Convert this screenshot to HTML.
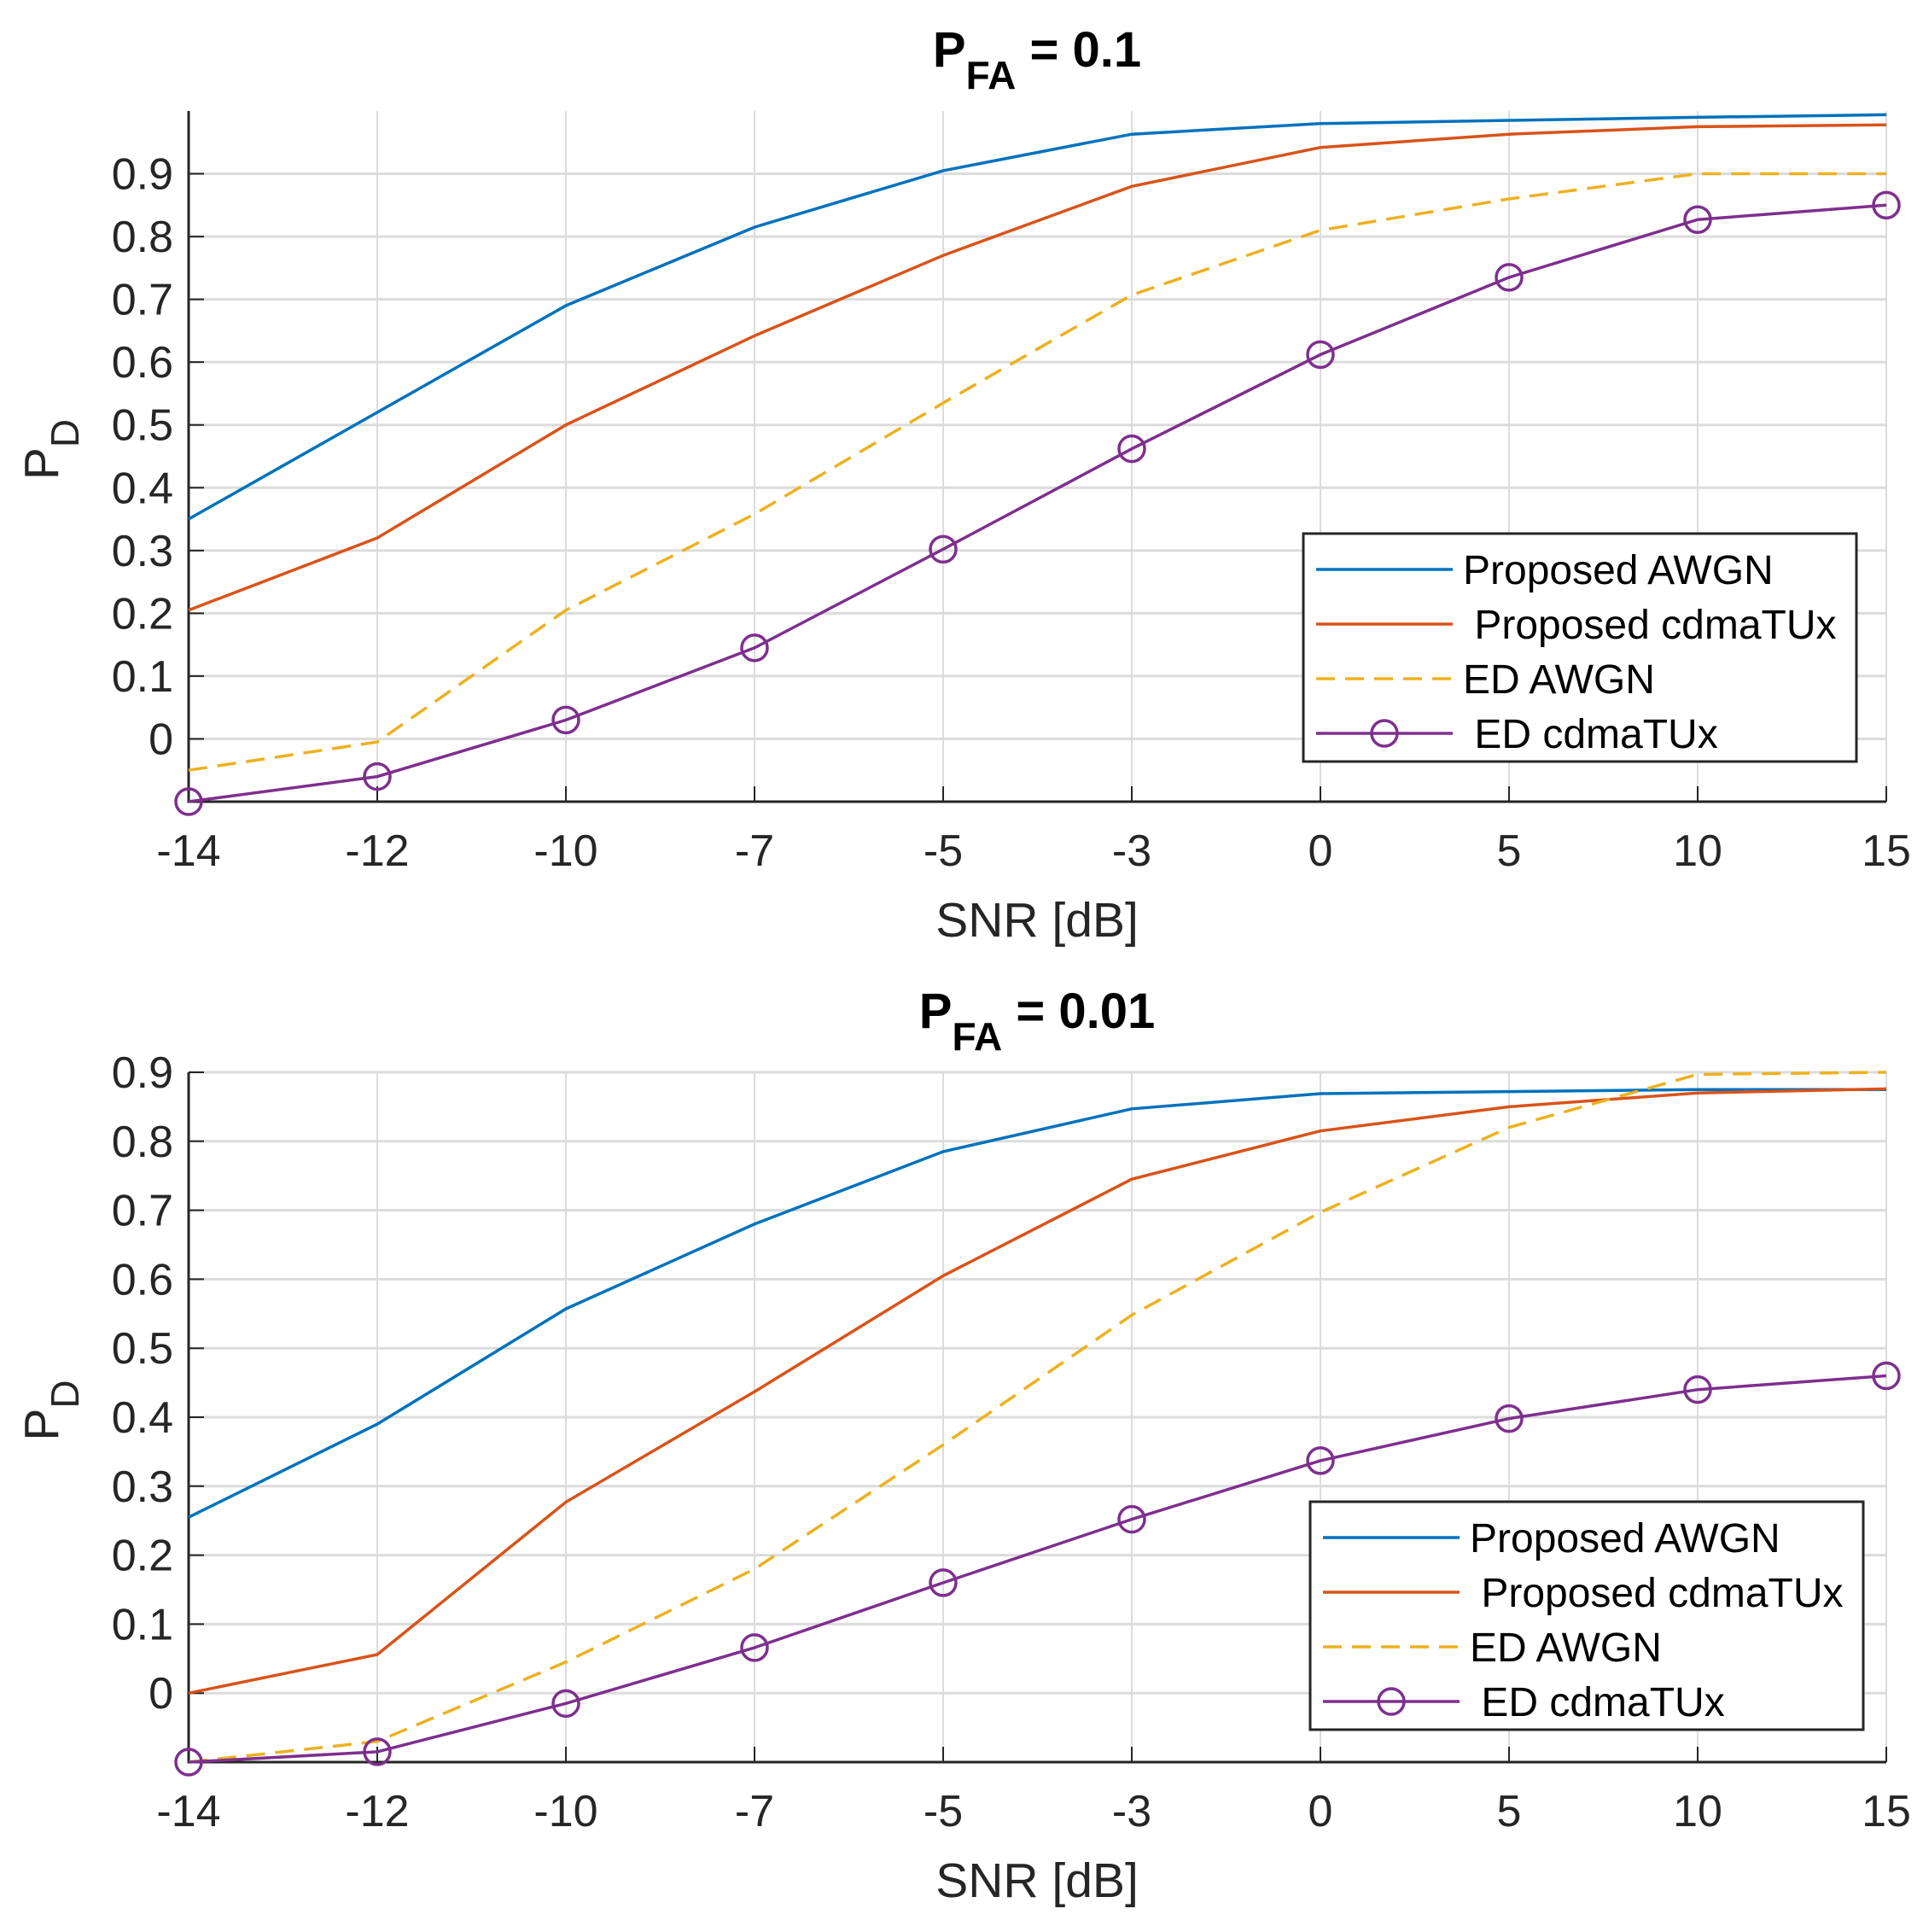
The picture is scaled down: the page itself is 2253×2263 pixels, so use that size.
<!DOCTYPE html>
<html><head><meta charset="utf-8"><style>
html,body{margin:0;padding:0;background:#fff;}
svg{display:block;font-family:"Liberation Sans",Arial,sans-serif;}
</style></head><body>
<svg id="fig" width="2253" height="2263" viewBox="0 0 2253 2263" xmlns="http://www.w3.org/2000/svg"></svg>
<script>
const categories = ["-14","-12","-10","-7","-5","-3","0","5","10","15"];
const top_awgn = [0.35,0.52,0.69,0.815,0.905,0.963,0.98,0.985,0.99,0.994];
const top_cdma = [0.205,0.32,0.5,0.642,0.77,0.88,0.942,0.963,0.975,0.978];
const top_ed_awgn = [-0.05,-0.005,0.205,0.358,0.535,0.707,0.81,0.86,0.9,0.9];
const top_ed_cdma = [-0.1,-0.06,0.03,0.145,0.302,0.462,0.612,0.735,0.827,0.85];
const bot_awgn = [0.255,0.39,0.557,0.68,0.785,0.847,0.869,0.872,0.875,0.875];
const bot_cdma = [0.0,0.056,0.277,0.437,0.605,0.745,0.815,0.85,0.87,0.876];
const bot_ed_awgn = [-0.1,-0.07,0.045,0.18,0.36,0.548,0.697,0.82,0.897,0.9];
const bot_ed_cdma = [-0.1,-0.085,-0.015,0.066,0.16,0.252,0.337,0.398,0.44,0.46];
const top_yticks = [0,0.1,0.2,0.3,0.4,0.5,0.6,0.7,0.8,0.9];
const bot_yticks = [0,0.1,0.2,0.3,0.4,0.5,0.6,0.7,0.8,0.9];
const legendLabels = ["Proposed AWGN"," Proposed cdmaTUx","ED AWGN"," ED cdmaTUx"];

const NS="http://www.w3.org/2000/svg";
const svg=document.getElementById('fig');
function mk(tag,attrs,parent){const e=document.createElementNS(NS,tag);for(const k in attrs)e.setAttribute(k,attrs[k]);(parent||svg).appendChild(e);return e;}
const colors=["#0072BD","#D95319","#EDB120","#7E2F8E"];

function panel(opt){
  const g=mk('g',{});
  
  
  const L=221,R=2210,T=opt.top,B=opt.bottom;
  const xs=i=>L+(R-L)*i/(categories.length-1);
  const ys=v=>B-(v-opt.ymin)/(opt.ymax-opt.ymin)*(B-T);
  categories.forEach((c,i)=>{const l=mk('line',{x1:xs(i),x2:xs(i),y1:T,y2:B,stroke:'#dcdcdc','stroke-width':2},g);
    });
  opt.yticks.forEach(v=>{const l=mk('line',{x1:L,x2:R,y1:ys(v),y2:ys(v),stroke:'#dcdcdc','stroke-width':3},g);
    });
  const ax=mk('path',{d:`M${L} ${T}V${B}H${R}`,fill:'none',stroke:'#262626','stroke-width':3},g);
  
  categories.forEach((c,i)=>{
    mk('line',{x1:xs(i),x2:xs(i),y1:B,y2:B-18,stroke:'#262626','stroke-width':2},g);
    const t=mk('text',{x:xs(i),y:B+75,'text-anchor':'middle','font-size':52,fill:'#262626'},g);t.textContent=c;
    
  });
  opt.yticks.forEach(v=>{
    mk('line',{x1:L,x2:L+18,y1:ys(v),y2:ys(v),stroke:'#262626','stroke-width':2},g);
    const t=mk('text',{x:L-18,y:ys(v)+18,'text-anchor':'end','font-size':52,fill:'#262626'},g);t.textContent=String(v);
    
  });
  opt.series.forEach((s,si)=>{
    const d=s.map((v,i)=>(i?'L':'M')+xs(i).toFixed(1)+' '+ys(v).toFixed(1)).join('');
    const p=mk('path',{d:d,fill:'none',stroke:colors[si],'stroke-width':3.5,'stroke-dasharray':si==2?'22 12':'none'},g);
    
    if(si==3){s.forEach((v,i)=>{const c=mk('circle',{cx:xs(i),cy:ys(v),r:15,fill:'none',stroke:colors[3],'stroke-width':3.5},g);
      });}
  });
  const tt=mk('text',{x:1215,y:T-52,'text-anchor':'middle','font-size':58,'font-weight':'bold',fill:'#000'},g);
  tt.innerHTML='P<tspan dy="26" font-size="46">FA</tspan><tspan dy="-26"> = '+opt.title+'</tspan>';
  
  const xl=mk('text',{x:1215,y:B+158,'text-anchor':'middle','font-size':57,fill:'#262626'},g);xl.textContent='SNR [dB]';
  
  const cy=(T+B)/2;
  const yl=mk('text',{x:0,y:0,'text-anchor':'middle','font-size':57,fill:'#262626',transform:`translate(68 ${cy-8}) rotate(-90)`},g);
  yl.innerHTML='P<tspan dy="24" font-size="46">D</tspan>';
  
  const lx=opt.leg[0],ly=opt.leg[1];
  const lg=mk('g',{},g);
  mk('rect',{x:lx,y:ly,width:648,height:267,fill:'#fff',stroke:'#262626','stroke-width':3},lg);
  legendLabels.forEach((lab,i)=>{
    const yy=ly+42+i*64;
    const e=mk('g',{},lg);
    mk('line',{x1:lx+15,x2:lx+175,y1:yy,y2:yy,stroke:colors[i],'stroke-width':3.5,'stroke-dasharray':i==2?'22 12':'none'},e);
    if(i==3)mk('circle',{cx:lx+95,cy:yy,r:15,fill:'none',stroke:colors[3],'stroke-width':3.5},e);
    const t=mk('text',{x:lx+187,y:yy+17,'font-size':48,fill:'#000'},e);t.textContent=lab;
    t.style.whiteSpace='pre';
  });
}
panel({name:'top-panel',top:130,bottom:939,ymin:-0.1,ymax:1.0,yticks:top_yticks,title:'0.1',
  series:[top_awgn,top_cdma,top_ed_awgn,top_ed_cdma],leg:[1527,625]});
panel({name:'bottom-panel',top:1256,bottom:2064,ymin:-0.1,ymax:0.9,yticks:bot_yticks,title:'0.01',
  series:[bot_awgn,bot_cdma,bot_ed_awgn,bot_ed_cdma],leg:[1535,1759]});
</script>
</body></html>
